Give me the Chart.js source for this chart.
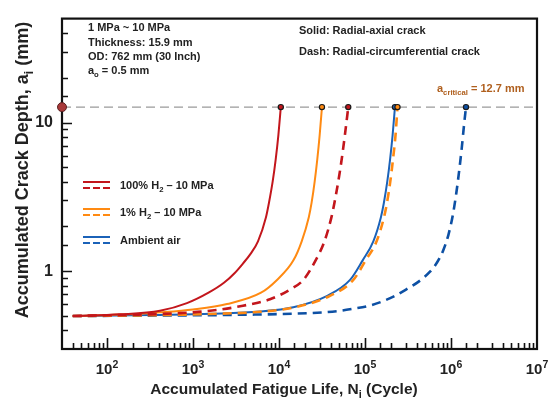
<!DOCTYPE html>
<html>
<head>
<meta charset="utf-8">
<script src="https://cdn.jsdelivr.net/npm/chart.js@4.4.1/dist/chart.umd.min.js"></script>
<style>
  html, body { margin: 0; padding: 0; background: #fff; }
  #wrap { width: 551px; height: 401px; position: relative; }
</style>
</head>
<body>
<div id="wrap"><canvas id="crackChart"></canvas></div>
<script>
// axis ranges and decade labels
const xMin = 30, xMax = 1e7;
const yMin = 0.3, yMax = 50;
const xDecades = [1e2, 1e3, 1e4, 1e5, 1e6, 1e7];
const xDecadeExp = ['2', '3', '4', '5', '6', '7'];
const yDecades = [1, 10];
const yDecadeLabels = ['1', '10'];
const criticalDepth = 12.7;

// 100% H2 - 10 MPa
const h2SolidN = [40, 142, 413, 851, 1535, 2290, 3040, 3810, 4670, 5700, 7060, 7650, 8450, 9160, 9840, 10500];
const h2SolidA = [0.5, 0.513, 0.542, 0.61, 0.72, 0.836, 0.97, 1.127, 1.309, 1.59, 2.31, 2.89, 4.02, 5.66, 8.23, 12.7];
const h2DashN = [40, 185, 706, 1579, 3811, 7852, 13430, 19180, 26570, 33790, 40760, 44160, 48940, 53600, 58380, 63900];
const h2DashA = [0.5, 0.509, 0.523, 0.542, 0.586, 0.648, 0.753, 0.874, 1.179, 1.59, 2.31, 2.89, 4.02, 5.66, 8.23, 12.7];

// 1% H2 - 10 MPa
const pctSolidN = [40, 185, 413, 1000, 2484, 6180, 9480, 14660, 18370, 22220, 23950, 26020, 27880, 29720, 31600];
const pctSolidA = [0.5, 0.513, 0.529, 0.554, 0.602, 0.717, 0.874, 1.179, 1.59, 2.31, 2.89, 4.02, 5.66, 8.23, 12.7];
const pctDashN = [40, 316, 1579, 6010, 14940, 38660, 73130, 101400, 136500, 166400, 180300, 196900, 211700, 226500, 238800];
const pctDashA = [0.5, 0.506, 0.516, 0.534, 0.571, 0.681, 0.874, 1.179, 1.59, 2.31, 2.89, 4.02, 5.66, 8.23, 12.7];

// Ambient air
const airSolidN = [40, 316, 1579, 6010, 14660, 35870, 67010, 93590, 125000, 153200, 165900, 181700, 195800, 209500, 223000];
const airSolidA = [0.5, 0.507, 0.518, 0.536, 0.573, 0.681, 0.874, 1.179, 1.59, 2.31, 2.89, 4.02, 5.66, 8.23, 12.7];
const airDashN = [40, 1205, 3811, 14550, 34290, 51230, 70620, 114300, 161900, 217300, 299700, 424500, 562300, 687600, 807200, 935100, 1054000, 1153000, 1233000, 1328000, 1416000, 1494000];
const airDashA = [0.5, 0.506, 0.51, 0.518, 0.53, 0.542, 0.558, 0.588, 0.629, 0.678, 0.753, 0.855, 0.985, 1.144, 1.369, 1.765, 2.416, 3.357, 4.528, 6.58, 9.56, 12.7];

const RED = '#c3161c', ORANGE = '#ff8a12', BLUE = '#1b62b8', BLUE_D = '#0d50a4';
const FONT = '"Liberation Sans", Arial, sans-serif';

function pts(ns, as) {
    return ns.map((n, i) => ({x: n, y: as[i]}));
}
function endRadius(c) {
    return c.dataIndex === c.dataset.data.length - 1 ? 2.6 : 0;
}
function curve(label, ns, as, color, dashed) {
    return {
        label: label,
        data: pts(ns, as),
        borderColor: color,
        backgroundColor: color,
        borderWidth: dashed ? 2.6 : 2,
        borderDash: dashed ? [9, 6] : [],
        pointRadius: endRadius,
        pointBackgroundColor: color,
        pointBorderColor: '#1a1a1a',
        pointBorderWidth: 1.2,
        cubicInterpolationMode: 'monotone',
        fill: false,
        order: 2
    };
}

// draw text with sub / superscript parts
function rich(ctx, x, y, parts, size, color, align) {
    ctx.save();
    ctx.fillStyle = color;
    ctx.textBaseline = 'alphabetic';
    const small = p => p[1] ? size * 0.7 : size;
    let w = 0;
    parts.forEach(p => {
        ctx.font = 'bold ' + small(p) + 'px ' + FONT;
        w += ctx.measureText(p[0]).width;
    });
    let cx = align === 'center' ? x - w / 2 : x;
    parts.forEach(p => {
        ctx.font = 'bold ' + small(p) + 'px ' + FONT;
        let dy = 0;
        if (p[1] === 'sub') dy = size * 0.28;
        if (p[1] === 'sup') dy = -size * 0.42;
        ctx.fillText(p[0], cx, y + dy);
        cx += ctx.measureText(p[0]).width;
    });
    ctx.restore();
}

const decor = {
    id: 'decor',
    beforeDatasetsDraw(chart) {
        const ctx = chart.ctx, a = chart.chartArea;
        const sx = chart.scales.x, sy = chart.scales.y;
        ctx.save();
        ctx.strokeStyle = '#111';
        ctx.lineWidth = 1.6;
        ctx.beginPath();
        sx.ticks.forEach(t => {
            const lg = Math.log10(t.value);
            const major = Math.abs(lg - Math.round(lg)) < 1e-6;
            const px = Math.round(sx.getPixelForValue(t.value)) + 0.5;
            if (px <= a.left + 1 || px >= a.right - 1) return;
            ctx.moveTo(px, a.bottom);
            ctx.lineTo(px, a.bottom - (major ? 11 : 6));
        });
        sy.ticks.forEach(t => {
            const lg = Math.log10(t.value);
            const major = Math.abs(lg - Math.round(lg)) < 1e-6;
            const py = Math.round(sy.getPixelForValue(t.value)) + 0.5;
            if (py <= a.top + 1 || py >= a.bottom - 1) return;
            ctx.moveTo(a.left, py);
            ctx.lineTo(a.left + (major ? 10 : 6), py);
        });
        ctx.stroke();
        ctx.lineWidth = 2.2;
        ctx.strokeRect(a.left, a.top, a.right - a.left, a.bottom - a.top);
        ctx.restore();
    },
    afterDraw(chart) {
        const ctx = chart.ctx, a = chart.chartArea;
        const sx = chart.scales.x;
        const txt = '#222';
        // x decade labels with superscript exponents
        xDecades.forEach((d, i) => {
            rich(ctx, sx.getPixelForValue(d), 374, [['10'], [xDecadeExp[i], 'sup']], 15, txt, 'center');
        });
        // axis titles
        rich(ctx, 284, 394, [['Accumulated Fatigue Life, N'], ['i', 'sub'], [' (Cycle)']], 15.5, txt, 'center');
        ctx.save();
        ctx.translate(28, 170);
        ctx.rotate(-Math.PI / 2);
        rich(ctx, 0, 0, [['Accumulated Crack Depth, a'], ['i', 'sub'], [' (mm)']], 18, txt, 'center');
        ctx.restore();

        // condition notes
        rich(ctx, 88, 31, [['1 MPa ~ 10 MPa']], 11, txt);
        rich(ctx, 88, 46, [['Thickness: 15.9 mm']], 11, txt);
        rich(ctx, 88, 60, [['OD: 762 mm (30 Inch)']], 11, txt);
        rich(ctx, 88, 74, [['a'], ['o', 'sub'], [' = 0.5 mm']], 11, txt);
        rich(ctx, 299, 34, [['Solid: Radial-axial crack']], 11, txt);
        rich(ctx, 299, 55, [['Dash: Radial-circumferential crack']], 11, txt);
        rich(ctx, 437, 92, [['a'], ['critical', 'sub'], [' = 12.7 mm']], 11, '#b0601f');

        // legend
        const rows = [
            [RED, 182, [['100% H'], ['2', 'sub'], [' \u2013 10 MPa']]],
            [ORANGE, 209, [['1% H'], ['2', 'sub'], [' \u2013 10 MPa']]],
            [BLUE, 237, [['Ambient air']]]
        ];
        ctx.save();
        rows.forEach(r => {
            ctx.strokeStyle = r[0];
            ctx.lineWidth = 2;
            ctx.setLineDash([]);
            ctx.beginPath();
            ctx.moveTo(83, r[1]);
            ctx.lineTo(110, r[1]);
            ctx.stroke();
            ctx.setLineDash([7, 3]);
            ctx.beginPath();
            ctx.moveTo(83, r[1] + 6);
            ctx.lineTo(110, r[1] + 6);
            ctx.stroke();
            rich(ctx, 120, r[1] + 7, r[2], 11, txt);
        });
        ctx.restore();
    }
};

new Chart(document.getElementById('crackChart'), {
    type: 'line',
    data: {
        datasets: [
            {
                label: 'critical',
                data: [{x: xMin, y: criticalDepth}, {x: xMax, y: criticalDepth}],
                borderColor: '#9a9a9a',
                borderWidth: 1.3,
                borderDash: [9, 5],
                pointRadius: 0,
                order: 5
            },
            curve('100% H2 solid', h2SolidN, h2SolidA, RED, false),
            curve('100% H2 dash', h2DashN, h2DashA, RED, true),
            curve('1% H2 solid', pctSolidN, pctSolidA, ORANGE, false),
            curve('1% H2 dash', pctDashN, pctDashA, ORANGE, true),
            curve('Air solid', airSolidN, airSolidA, BLUE, false),
            curve('Air dash', airDashN, airDashA, BLUE_D, true),
            {
                label: 'critical marker',
                data: [{x: xMin, y: criticalDepth}],
                pointRadius: 4.5,
                pointBackgroundColor: '#a8393a',
                pointBorderColor: '#5a2020',
                pointBorderWidth: 1,
                showLine: false,
                clip: false,
                order: 0
            }
        ]
    },
    options: {
        responsive: true,
        maintainAspectRatio: false,
        devicePixelRatio: 1,
        animation: false,
        layout: {padding: {left: 0, top: 10, right: 14, bottom: 0}},
        plugins: {legend: {display: false}, tooltip: {enabled: false}},
        scales: {
            x: {
                type: 'logarithmic',
                min: xMin,
                max: xMax,
                grid: {display: false, drawTicks: false},
                border: {display: false},
                afterFit: s => { s.height = 52; },
                ticks: {
                    autoSkip: false,
                    maxRotation: 0,
                    callback: () => ''
                }
            },
            y: {
                type: 'logarithmic',
                min: yMin,
                max: yMax,
                grid: {display: false, drawTicks: false},
                border: {display: false},
                afterFit: s => { s.width = 62; },
                ticks: {
                    autoSkip: false,
                    padding: 9,
                    color: '#222',
                    font: {family: FONT, size: 16, weight: 'bold'},
                    callback: v => {
                        const i = yDecades.findIndex(d => Math.abs(d - v) / d < 1e-6);
                        return i >= 0 ? yDecadeLabels[i] : '';
                    }
                }
            }
        }
    },
    plugins: [decor]
});
</script>
</body>
</html>
